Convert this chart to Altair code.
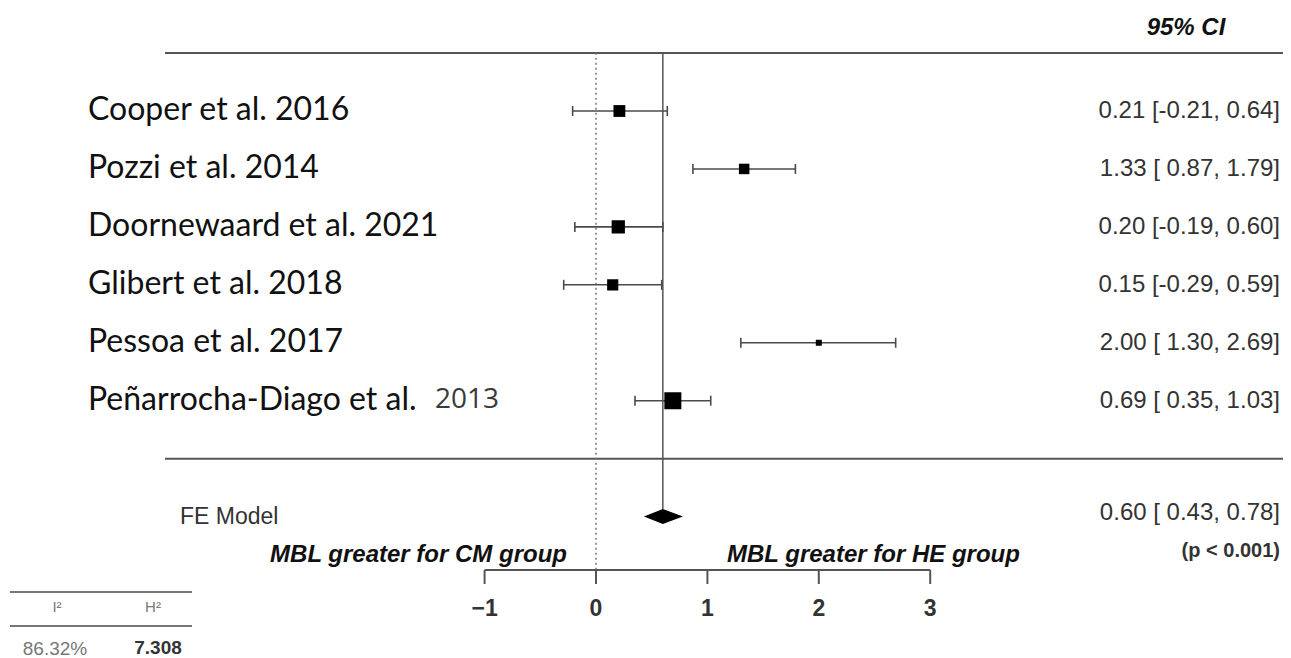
import altair as alt
import pandas as pd

# ---- data ----
studies = ["Cooper et al. 2016", "Pozzi et al. 2014", "Doornewaard et al. 2021",
           "Glibert et al. 2018", "Pessoa et al. 2017", "Peñarrocha-Diago et al. 2013"]
est = [0.21, 1.33, 0.20, 0.15, 2.00, 0.69]
lo = [-0.21, 0.87, -0.19, -0.29, 1.30, 0.35]
hi = [0.64, 1.79, 0.60, 0.59, 2.69, 1.03]
weights = [21.3, 18.2, 24.6, 19.8, 7.9, 33.2]   # relative weights (marker size)

fe_label = "FE Model"
fe_est, fe_lo, fe_hi = 0.60, 0.43, 0.78
p_text = "(p < 0.001)"
tick_values = [-1, 0, 1, 2, 3]
tick_labels = ["\u22121", "0", "1", "2", "3"]
het_headers = ["I\u00b2", "H\u00b2"]
het_values = ["86.32%", "7.308"]
left_note = "MBL greater for CM group"
right_note = "MBL greater for HE group"

# ---- layout ----
W, H = 1275, 650
px_per_unit = 111.4
x0_px = 588
xscale = alt.Scale(domain=[-x0_px / px_per_unit, (W - x0_px) / px_per_unit], nice=False, zero=False)
row_px = 57.94
row0_px = 45.06
yscale = alt.Scale(domain=[-row0_px / row_px, (H - row0_px) / row_px], nice=False, zero=False, reverse=True)

rows = list(range(1, len(studies) + 1))
# the last label's year was typeset in a different font in the original
main_labels = studies[:-1] + [studies[-1].rsplit(" ", 1)[0]]
year_suffix = studies[-1].rsplit(" ", 1)[1]

df = pd.DataFrame({
    "study": main_labels, "est": est, "lo": lo, "hi": hi, "w": weights, "row": rows,
    "ci": [f"{e:.2f} [{l:5.2f}, {h:.2f}]" for e, l, h in zip(est, lo, hi)],
})
fe_row = len(studies) + 2
half = 7.5 / row_px
fe_df = pd.DataFrame({"x": [fe_lo, fe_est, fe_hi],
                      "y": [fe_row, fe_row - half, fe_row],
                      "y2": [fe_row, fe_row + half, fe_row]})
fe_txt = pd.DataFrame({"label": [fe_label], "row": [fe_row],
                       "ci": [f"{fe_est:.2f} [{fe_lo:5.2f}, {fe_hi:.2f}]"]})


def X(f):
    return alt.X(f, scale=xscale, axis=None)


def Y(f):
    return alt.Y(f, scale=yscale, axis=None)


def txt(t, x, y, **kw):
    return alt.Chart(pd.DataFrame({"t": [t]})).mark_text(**kw).encode(
        x=alt.value(x), y=alt.value(y), text="t:N")


base = alt.Chart(df)
line_col = "#555555"
bar_col = "#4a4a4a"

hlines = alt.Chart(pd.DataFrame({"r": [0, len(studies) + 1]})).mark_rule(
    color=line_col, strokeWidth=2).encode(
    x=alt.value(157), x2=alt.value(W), y=Y("r:Q"))

zero_line = alt.Chart(pd.DataFrame({"x": [0]})).mark_rule(
    color="#777777", strokeWidth=1.5, strokeDash=[2, 3]).encode(
    x=X("x:Q"), y=alt.value(44.7), y2=alt.value(562))

fe_line = alt.Chart(pd.DataFrame({"x": [fe_est], "y1": [0], "y2": [fe_row - half]})).mark_rule(
    color=line_col, strokeWidth=1.5).encode(
    x=X("x:Q"), y=Y("y1:Q"), y2="y2:Q")

bars = base.mark_rule(color=bar_col, strokeWidth=1.6).encode(
    x=X("lo:Q"), x2="hi:Q", y=Y("row:Q"))
cap_lo = base.mark_rule(color=bar_col, strokeWidth=1.6, yOffset=-5, y2Offset=5).encode(
    x=X("lo:Q"), y=Y("row:Q"), y2="row:Q")
cap_hi = base.mark_rule(color=bar_col, strokeWidth=1.6, yOffset=-5, y2Offset=5).encode(
    x=X("hi:Q"), y=Y("row:Q"), y2="row:Q")

points = base.transform_calculate(
    msize="pow(0.435 * (datum.w + 5.9), 2)"
).mark_square(color="black", opacity=1).encode(
    x=X("est:Q"), y=Y("row:Q"),
    size=alt.Size("msize:Q", scale=None, legend=None))

diamond = alt.Chart(fe_df).mark_area(color="black").encode(
    x=X("x:Q"), y=Y("y:Q"), y2="y2:Q")

labels = base.mark_text(align="left", baseline="middle", font="Lato", fontSize=32,
                        color="#111111", dy=-1).encode(
    x=alt.value(80), y=Y("row:Q"), text="study:N")
year_lab = alt.Chart(pd.DataFrame({"t": [year_suffix], "row": [rows[-1]]})).mark_text(
    align="left", baseline="middle", font="Open Sans", fontSize=28, color="#3a3a3a", dy=-1).encode(
    x=alt.value(427), y=Y("row:Q"), text="t:N")

ci_text = base.mark_text(align="right", baseline="middle", font="Liberation Sans",
                         fontSize=24, color="#333333").encode(
    x=alt.value(1272), y=Y("row:Q"), text="ci:N")

header = txt("95% CI", 1178, 20, align="center", baseline="middle", font="Liberation Sans",
             fontSize=24, fontWeight="bold", fontStyle="italic", color="#111111")

fe_lab = alt.Chart(fe_txt).mark_text(align="left", baseline="middle", font="Liberation Sans",
                                     fontSize=23, color="#333333").encode(
    x=alt.value(172), y=Y("row:Q"), text="label:N")
fe_ci = alt.Chart(fe_txt).mark_text(align="right", baseline="middle", font="Liberation Sans",
                                    fontSize=24, color="#333333", dy=-4).encode(
    x=alt.value(1272), y=Y("row:Q"), text="ci:N")
p_lab = txt(p_text, 1272, 543, align="right", baseline="middle", font="Liberation Sans",
            fontSize=20, fontWeight="bold", color="#333333")

note_l = txt(left_note, 559, 554, align="right", baseline="alphabetic", font="Liberation Sans",
             fontSize=24, fontWeight="bold", fontStyle="italic", color="#111111")
note_r = txt(right_note, 719, 554, align="left", baseline="alphabetic", font="Liberation Sans",
             fontSize=24, fontWeight="bold", fontStyle="italic", color="#111111")

tick_df = pd.DataFrame({"v": tick_values, "t": tick_labels})
axis_line = alt.Chart(pd.DataFrame({"a": [tick_values[0]], "b": [tick_values[-1]]})).mark_rule(
    color=line_col, strokeWidth=2).encode(x=X("a:Q"), x2="b:Q", y=alt.value(562))
ticks = alt.Chart(tick_df).mark_rule(color=line_col, strokeWidth=2).encode(
    x=X("v:Q"), y=alt.value(562), y2=alt.value(576))
tick_text = alt.Chart(tick_df).mark_text(baseline="middle", font="Liberation Sans", fontSize=23,
                                         fontWeight="bold", color="#333333").encode(
    x=X("v:Q"), y=alt.value(601), text="t:N")

het_line1 = alt.Chart(pd.DataFrame({"a": [0]})).mark_rule(color="#777777", strokeWidth=2).encode(
    x=alt.value(2), x2=alt.value(184), y=alt.value(584))
het_line2 = alt.Chart(pd.DataFrame({"a": [0]})).mark_rule(color="#777777", strokeWidth=2).encode(
    x=alt.value(2), x2=alt.value(184), y=alt.value(618))
het_h1 = txt(het_headers[0], 49, 599, align="center", baseline="middle", font="Liberation Sans",
             fontSize=15, color="#777777")
het_h2 = txt(het_headers[1], 145, 599, align="center", baseline="middle", font="Liberation Sans",
             fontSize=15, color="#777777")
het_v1 = txt(het_values[0], 47, 641, align="center", baseline="middle", font="Liberation Sans",
             fontSize=19, color="#777777")
het_v2 = txt(het_values[1], 150, 640, align="center", baseline="middle", font="Liberation Sans",
             fontSize=19, fontWeight="bold", color="#333333")

chart = alt.layer(
    hlines, zero_line, fe_line, bars, cap_lo, cap_hi, points, diamond,
    labels, year_lab, ci_text, header, fe_lab, fe_ci, p_lab, note_l, note_r,
    axis_line, ticks, tick_text, het_line1, het_line2, het_h1, het_h2, het_v1, het_v2
).properties(
    width=W, height=H, padding=0, autosize="none"
).configure_view(stroke=None)

chart.save("out.html", embed_options={"renderer": "svg", "actions": False})
